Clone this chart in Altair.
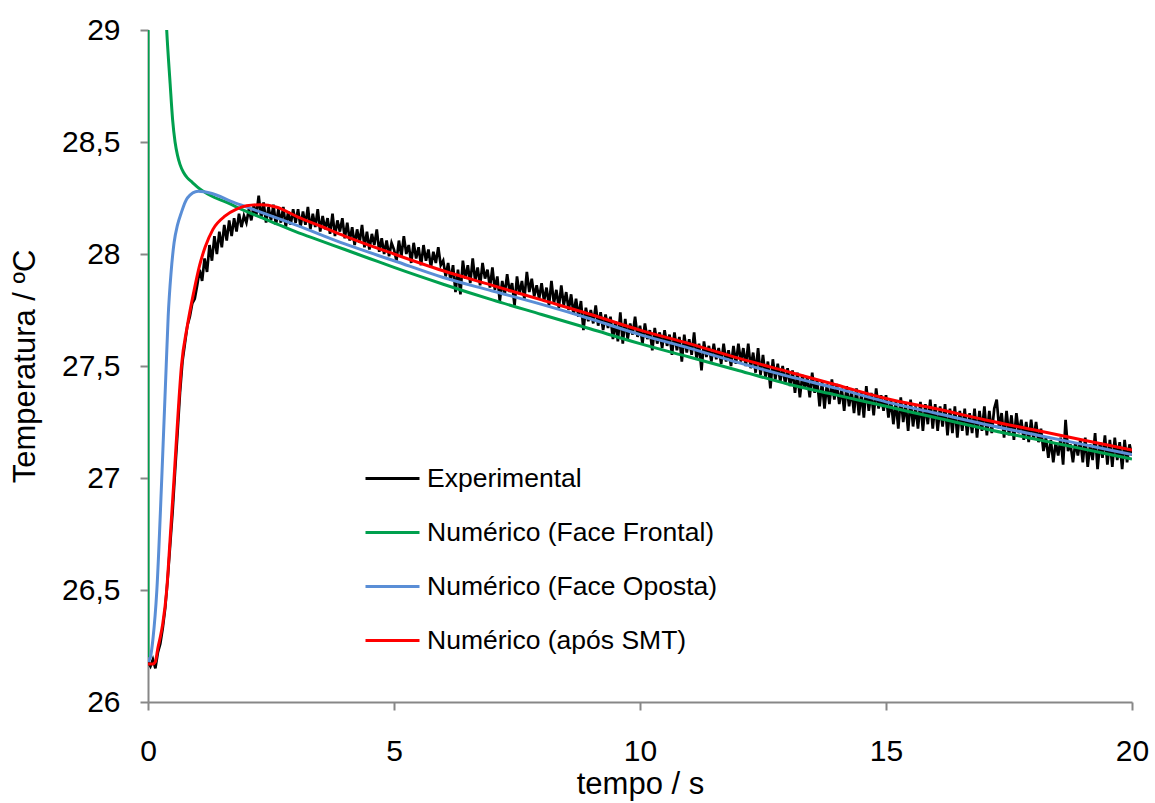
import altair as alt
import pandas as pd

# ---------------- data ----------------
series_names = ["Experimental", "Numérico (Face Frontal)", "Numérico (Face Oposta)", "Numérico (após SMT)"]
series_colors = ["#000000", "#00A04E", "#5A8ED6", "#FF0000"]

# Experimental signal, sampled every 0.05 s (0 .. 20 s)
exp_temp = [
    26.18, 26.16, 26.19, 26.15, 26.22, 26.26, 26.33, 26.42, 26.55, 26.70, 26.85, 27.03, 27.20, 27.38, 27.52, 27.60, 27.68, 27.72, 27.78, 27.80,
    27.86, 27.93, 27.88, 27.98, 27.92, 28.04, 27.97, 28.08, 28.00, 28.10, 28.03, 28.13, 28.06, 28.15, 28.08, 28.16, 28.10, 28.18, 28.12, 28.17,
    28.14, 28.20, 28.15, 28.22, 28.17, 28.26, 28.16, 28.23, 28.14, 28.21, 28.15, 28.22, 28.13, 28.20, 28.14, 28.21, 28.12, 28.19, 28.13, 28.20,
    28.14, 28.20, 28.12, 28.19, 28.13, 28.21, 28.11, 28.18, 28.12, 28.20, 28.10, 28.17, 28.11, 28.16, 28.09, 28.18, 28.08, 28.15, 28.10, 28.16,
    28.07, 28.14, 28.06, 28.12, 28.04, 28.11, 28.05, 28.13, 28.03, 28.10, 28.02, 28.09, 28.04, 28.11, 28.01, 28.07, 28.00, 28.06, 27.99, 28.05,
    28.02, 27.97, 28.06, 27.99, 28.08, 28.00, 28.04, 27.96, 28.05, 27.98, 28.03, 27.95, 28.04, 27.97, 28.02, 27.94, 28.01, 27.96, 28.03, 27.95,
    27.97, 27.90, 27.96, 27.88, 27.95, 27.83, 27.93, 27.82, 27.97, 27.89, 27.95, 27.87, 27.98, 27.88, 27.94, 27.86, 27.96, 27.89, 27.93, 27.85,
    27.94, 27.84, 27.90, 27.79, 27.88, 27.82, 27.91, 27.83, 27.87, 27.77, 27.90, 27.82, 27.88, 27.80, 27.92, 27.83, 27.89, 27.81, 27.86, 27.80,
    27.87, 27.79, 27.85, 27.77, 27.88, 27.78, 27.84, 27.76, 27.86, 27.77, 27.83, 27.75, 27.82, 27.73, 27.80, 27.72, 27.79, 27.66, 27.76, 27.70,
    27.75, 27.69, 27.77, 27.68, 27.74, 27.66, 27.73, 27.67, 27.72, 27.62, 27.70, 27.61, 27.74, 27.60, 27.71, 27.62, 27.69, 27.64, 27.72, 27.63,
    27.68, 27.60, 27.69, 27.62, 27.66, 27.57, 27.67, 27.60, 27.65, 27.58, 27.66, 27.59, 27.64, 27.55, 27.65, 27.57, 27.63, 27.52, 27.64, 27.56,
    27.62, 27.55, 27.65, 27.53, 27.60, 27.48, 27.61, 27.54, 27.59, 27.52, 27.60, 27.53, 27.58, 27.51, 27.60, 27.52, 27.57, 27.50, 27.59, 27.51,
    27.60, 27.52, 27.58, 27.50, 27.60, 27.49, 27.56, 27.47, 27.58, 27.46, 27.55, 27.45, 27.52, 27.40, 27.53, 27.44, 27.51, 27.43, 27.50, 27.42,
    27.49, 27.41, 27.48, 27.38, 27.47, 27.36, 27.46, 27.40, 27.45, 27.36, 27.47, 27.38, 27.44, 27.32, 27.43, 27.31, 27.42, 27.33, 27.44, 27.35,
    27.42, 27.33, 27.40, 27.30, 27.41, 27.32, 27.39, 27.29, 27.40, 27.28, 27.38, 27.27, 27.41, 27.30, 27.38, 27.28, 27.40, 27.31, 27.37, 27.30,
    27.37, 27.27, 27.35, 27.24, 27.34, 27.22, 27.36, 27.25, 27.33, 27.21, 27.35, 27.23, 27.32, 27.22, 27.34, 27.21, 27.33, 27.24, 27.35, 27.22,
    27.33, 27.21, 27.32, 27.23, 27.33, 27.19, 27.31, 27.20, 27.32, 27.18, 27.30, 27.21, 27.31, 27.19, 27.29, 27.20, 27.31, 27.18, 27.30, 27.21,
    27.32, 27.19, 27.30, 27.20, 27.31, 27.35, 27.22, 27.29, 27.18, 27.30, 27.19, 27.28, 27.17, 27.29, 27.20, 27.26, 27.17, 27.25, 27.16, 27.26,
    27.17, 27.25, 27.16, 27.22, 27.12, 27.18, 27.09, 27.17, 27.07, 27.16, 27.10, 27.18, 27.06, 27.26, 27.12, 27.15, 27.07, 27.16, 27.10, 27.17,
    27.07, 27.18, 27.05, 27.15, 27.08, 27.20, 27.04, 27.16, 27.09, 27.19, 27.06, 27.17, 27.05, 27.18, 27.08, 27.16, 27.04, 27.17, 27.07, 27.15, 27.10,
]
exp_time = [round(i * 0.05, 2) for i in range(len(exp_temp))]

# Numérico (Face Frontal) - green
front_time = [0.0, 0.003, 0.1, 0.2, 0.3, 0.38, 0.45, 0.5, 0.55, 0.6, 0.65, 0.72, 0.8, 0.9, 1.0, 1.28, 1.6, 2.0, 2.5, 3.0, 3.5, 4.0, 4.5,
              5.0, 6.0, 7.0, 8.0, 9.0, 10.0, 11.0, 12.0, 13.0, 14.0, 15.0, 16.0, 17.0, 18.0, 19.0, 20.0]
front_temp = [26.2, 40.0, 31.5, 30.2, 29.4, 29.0, 28.76, 28.6, 28.5, 28.44, 28.4, 28.365, 28.34, 28.32, 28.3, 28.26, 28.23, 28.19, 28.145, 28.1, 28.06, 28.02, 27.98,
              27.94, 27.865, 27.795, 27.73, 27.665, 27.60, 27.54, 27.48, 27.42, 27.37, 27.32, 27.27, 27.22, 27.175, 27.13, 27.085]

# Numérico (Face Oposta) - blue
back_time = [0.0, 0.05, 0.1, 0.18, 0.28, 0.37, 0.41, 0.47, 0.53, 0.6, 0.67, 0.8, 1.02, 1.3, 1.69, 2.0, 2.5, 3.0, 4.0,
             5.0, 6.0, 7.0, 8.0, 9.0, 10.0, 11.0, 12.0, 13.0, 14.0, 15.0, 16.0, 17.0, 18.0, 19.0, 20.0]
back_temp = [26.18, 26.2, 26.28, 26.5, 27.0, 27.5, 27.72, 27.92, 28.05, 28.13, 28.18, 28.25, 28.28, 28.27, 28.235, 28.21, 28.17, 28.13, 28.045,
             27.97, 27.895, 27.835, 27.775, 27.71, 27.64, 27.58, 27.515, 27.455, 27.40, 27.34, 27.29, 27.24, 27.195, 27.15, 27.105]

# Numérico (após SMT) - red
smt_time = [0.0, 0.1, 0.15, 0.2, 0.25, 0.3, 0.38, 0.45, 0.53, 0.6, 0.68, 0.8, 0.93, 1.05, 1.16, 1.32, 1.57, 1.8, 2.0, 2.3, 2.6,
            3.05, 3.5, 4.0, 5.0, 6.0, 7.0, 8.0, 9.0, 10.0, 11.0, 12.0, 13.0, 14.0, 15.0, 16.0, 17.0, 18.0, 19.0, 20.0]
smt_temp = [26.17, 26.17, 26.18, 26.24, 26.29, 26.35, 26.5, 26.73, 27.0, 27.25, 27.5, 27.68, 27.83, 27.95, 28.03, 28.11, 28.17, 28.2, 28.215, 28.22, 28.21,
            28.165, 28.125, 28.08, 28.0, 27.925, 27.86, 27.795, 27.73, 27.66, 27.60, 27.535, 27.475, 27.415, 27.355, 27.31, 27.26, 27.215, 27.17, 27.125]

x_ticks = [0, 5, 10, 15, 20]
y_ticks = [26, 26.5, 27, 27.5, 28, 28.5, 29]

# ---------------- build table ----------------
frames = []
for name, t, v in zip(series_names,
                      [exp_time, front_time, back_time, smt_time],
                      [exp_temp, front_temp, back_temp, smt_temp]):
    frames.append(pd.DataFrame({"tempo": t, "temp": v, "serie": name}))
df = pd.concat(frames, ignore_index=True)

FONT = "Liberation Sans"
AXIS_GRAY = "#878787"

color = alt.Color(
    "serie:N",
    scale=alt.Scale(domain=series_names, range=series_colors),
    legend=alt.Legend(
        orient="none", legendX=216, legendY=420, title=None,
        symbolType="stroke", symbolSize=2916, symbolStrokeWidth=3,
        labelFontSize=26.5, labelFont=FONT, labelColor="#000000",
        labelOffset=6, rowPadding=12, labelLimit=600,
    ),
)

x_enc = alt.X(
    "tempo:Q",
    scale=alt.Scale(domain=[0, 20], nice=False),
    axis=alt.Axis(title="tempo / s", values=x_ticks, grid=False, labelFlush=False,
                  domainColor=AXIS_GRAY, domainWidth=2, tickColor=AXIS_GRAY, tickWidth=2, tickSize=8,
                  labelFontSize=30, labelFont=FONT, labelColor="#000000", labelPadding=26,
                  titleFontSize=31, titleFont=FONT, titleFontWeight="normal", titleColor="#000000", titlePadding=3),
)
y_enc = alt.Y(
    "temp:Q",
    scale=alt.Scale(domain=[26, 29], nice=False, zero=False),
    axis=alt.Axis(title="Temperatura / ºC", values=y_ticks, grid=False, labelFlush=False,
                  labelExpr="replace(toString(datum.value), '.', ',')",
                  domainColor=AXIS_GRAY, domainWidth=2, tickColor=AXIS_GRAY, tickWidth=2, tickSize=8,
                  labelFontSize=30, labelFont=FONT, labelColor="#000000", labelPadding=20,
                  titleFontSize=31, titleFont=FONT, titleFontWeight="normal", titleColor="#000000", titlePadding=20),
)

base = alt.Chart(df)

layers = []
widths = [2.7, 3, 3, 3]
interps = ["linear", "monotone", "monotone", "monotone"]
for name, w, ip in zip(series_names, widths, interps):
    layers.append(
        base.transform_filter(alt.datum.serie == name)
        .mark_line(strokeWidth=w, clip=True, interpolate=ip)
        .encode(x=x_enc, y=y_enc, color=color)
    )

chart = (
    alt.layer(*layers)
    .properties(width=984, height=672,
                background="white",
                autosize=alt.AutoSizeParams(type="none"),
                padding={"left": 148, "top": 30, "right": 23, "bottom": 101})
    .configure_view(stroke="transparent", strokeWidth=0)
)

chart.save("out.html", embed_options={"renderer": "svg", "actions": False})
